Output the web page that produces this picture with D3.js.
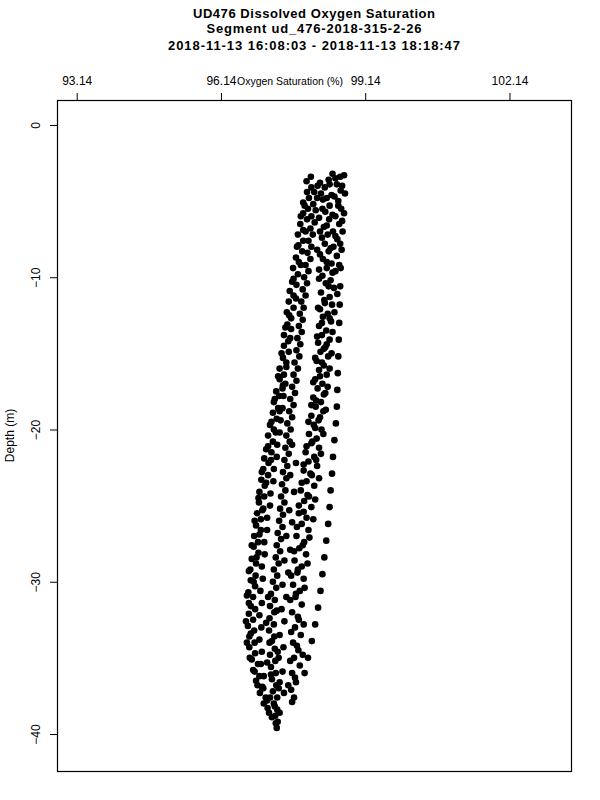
<!DOCTYPE html>
<html>
<head>
<meta charset="utf-8">
<script src="https://cdn.jsdelivr.net/npm/d3@7"></script>
<style>
  body { margin: 0; background: #fff; }
  text { font-family: "Liberation Sans", Arial, sans-serif; fill: #000; }
</style>
</head>
<body>
<svg width="600" height="800"></svg>
<script>
// Title and axis text
const titleLines = [
    "UD476 Dissolved Oxygen Saturation",
    "Segment ud_476-2018-315-2-26",
    "2018-11-13 16:08:03 - 2018-11-13 18:18:47"
];
const xLabel = "Oxygen Saturation (%)";
const yLabel = "Depth (m)";
const xTicks = [93.14, 96.14, 99.14, 102.14];
const yTicks = [0, -10, -20, -30, -40];

// Samples: [oxygen saturation %, depth m]
// left edge streak
const leftBranch = [
    [98.01,-3.4],[97.92,-3.7],[98.02,-4.1],[97.93,-4.4],[97.97,-4.8],[97.85,-5.1],[97.95,-5.5],[97.85,-5.8],
    [97.93,-6.2],[97.79,-6.5],[97.85,-6.9],[97.74,-7.2],[97.85,-7.6],[97.75,-7.9],[97.83,-8.3],[97.70,-8.7],
    [97.76,-9.0],[97.64,-9.4],[97.74,-9.8],[97.65,-10.1],[97.71,-10.5],[97.57,-10.9],[97.65,-11.2],[97.55,-11.6],
    [97.65,-12.0],[97.51,-12.3],[97.60,-12.7],[97.52,-13.1],[97.60,-13.4],[97.45,-13.8],[97.54,-14.2],[97.45,-14.5],
    [97.55,-14.9],[97.43,-15.3],[97.50,-15.6],[97.36,-16.0],[97.45,-16.4],[97.36,-16.7],[97.43,-17.1],[97.29,-17.5],
    [97.35,-17.8],[97.24,-18.2],[97.33,-18.6],[97.22,-18.9],[97.30,-19.3],[97.16,-19.7],[97.24,-20.0],[97.12,-20.4],
    [97.22,-20.8],[97.12,-21.1],[97.19,-21.5],[97.04,-21.9],[97.13,-22.2],[97.02,-22.6],[97.12,-23.0],[96.98,-23.3],
    [97.05,-23.7],[96.94,-24.1],[97.04,-24.4],[96.93,-24.8],[97.02,-25.2],[96.89,-25.5],[96.97,-25.9],[96.87,-26.3],
    [96.97,-26.6],[96.83,-27.0],[96.91,-27.4],[96.82,-27.7],[96.92,-28.1],[96.78,-28.5],[96.87,-28.8],[96.75,-29.2],
    [96.86,-29.6],[96.76,-29.9],[96.85,-30.3],[96.71,-30.7],[96.81,-31.0],[96.72,-31.4],[96.85,-31.8],[96.72,-32.1],
    [96.81,-32.5],[96.70,-32.9],[96.83,-33.2],[96.73,-33.6],[96.84,-34.0],[96.73,-34.3],[96.85,-34.7],[96.78,-35.1],
    [96.91,-35.4],[96.81,-35.8],[96.94,-36.2],[96.87,-36.5],[97.00,-36.9],[96.95,-37.3],[97.07,-37.6],[97.03,-38.0],
    [97.11,-38.3]
];
// second pass along the left edge
const leftExtra = [
    [97.88,-5.3],[97.80,-6.0],[97.90,-7.0],[97.72,-8.0],[97.80,-9.2],[97.62,-10.3],[97.70,-11.4],[97.56,-12.5],
    [97.48,-13.3],[97.58,-14.0],[97.40,-15.0],[97.50,-15.9],[97.33,-16.5],[97.42,-17.3],[97.26,-18.0],[97.36,-18.8],
    [97.19,-19.5],[97.28,-20.2],[97.08,-21.3],[97.18,-22.0],[96.99,-22.8],[97.08,-23.5],[96.92,-24.5],[97.00,-25.3],
    [96.84,-26.0],[96.94,-26.9],[96.78,-27.6],[96.88,-28.4],[96.72,-29.3],[96.82,-30.0],[96.68,-30.9],[96.76,-31.6],
    [96.66,-32.6],[96.76,-33.4],[96.68,-34.0],[96.74,-35.0],[96.84,-35.9],[96.90,-36.8],[97.00,-37.0]
];
// middle streak, ends in the deep tail
const middleBranch = [
    [98.15,-4.0],[98.08,-4.4],[98.14,-4.8],[98.06,-5.2],[98.11,-5.6],[98.02,-6.0],[98.09,-6.4],[98.00,-6.8],
    [98.05,-7.2],[97.96,-7.6],[98.02,-8.0],[97.94,-8.4],[98.00,-8.8],[97.90,-9.2],[97.96,-9.6],[97.87,-10.0],
    [97.93,-10.4],[97.84,-10.8],[97.90,-11.2],[97.81,-11.6],[97.86,-12.0],[97.78,-12.4],[97.84,-12.8],[97.76,-13.2],
    [97.82,-13.6],[97.73,-14.0],[97.79,-14.4],[97.71,-14.8],[97.77,-15.2],[97.67,-15.6],[97.74,-16.0],[97.65,-16.4],
    [97.71,-16.8],[97.62,-17.2],[97.68,-17.6],[97.58,-18.0],[97.65,-18.4],[97.56,-18.8],[97.62,-19.2],[97.52,-19.6],
    [97.59,-20.0],[97.50,-20.4],[97.57,-20.8],[97.48,-21.2],[97.55,-21.6],[97.46,-22.0],[97.52,-22.4],[97.43,-22.8],
    [97.50,-23.2],[97.41,-23.6],[97.48,-24.0],[97.39,-24.4],[97.46,-24.8],[97.37,-25.2],[97.43,-25.6],[97.35,-26.0],
    [97.42,-26.4],[97.32,-26.8],[97.39,-27.2],[97.30,-27.6],[97.37,-28.0],[97.28,-28.4],[97.34,-28.8],[97.24,-29.2],
    [97.31,-29.6],[97.22,-30.0],[97.29,-30.4],[97.18,-30.8],[97.26,-31.2],[97.16,-31.6],[97.25,-32.0],[97.15,-32.4],
    [97.24,-32.8],[97.14,-33.2],[97.25,-33.6],[97.15,-34.0],[97.26,-34.4],[97.16,-34.8],[97.27,-35.2],[97.18,-35.6],
    [97.28,-36.0],[97.20,-36.4],[97.29,-36.8],[97.22,-37.2],[97.31,-37.6],[97.24,-38.0],[97.31,-38.4],[97.27,-38.8],
    [97.32,-39.2],[97.30,-39.6]
];
// dense right streak
const rightBranch = [
    [98.46,-3.2],[98.62,-3.4],[98.38,-3.6],[98.55,-3.9],[98.30,-4.1],[98.63,-4.3],[98.44,-4.6],[98.34,-4.8],
    [98.58,-5.0],[98.40,-5.3],[98.64,-5.5],[98.31,-5.7],[98.52,-6.0],[98.39,-6.2],[98.60,-6.5],[98.28,-6.7],
    [98.47,-7.0],[98.36,-7.2],[98.56,-7.5],[98.30,-7.8],[98.48,-8.0],[98.38,-8.3],[98.55,-8.6],[98.26,-8.8],
    [98.44,-9.1],[98.34,-9.4],[98.52,-9.6],[98.25,-9.9],[98.42,-10.2],[98.32,-10.4],[98.49,-10.7],[98.22,-11.0],
    [98.40,-11.3],[98.29,-11.5],[98.45,-11.8],[98.20,-12.1],[98.36,-12.4],[98.26,-12.6],[98.43,-12.9],[98.18,-13.2],
    [98.33,-13.5],[98.24,-13.8],[98.40,-14.1],[98.16,-14.3],[98.31,-14.6],[98.21,-14.9],[98.37,-15.2],[98.13,-15.5],
    [98.28,-15.8],[98.18,-16.1],[98.34,-16.4],[98.10,-16.7],[98.25,-17.0],[98.15,-17.3],[98.31,-17.6],[98.06,-17.9],
    [98.22,-18.2],[98.11,-18.5],[98.27,-18.8],[98.02,-19.1],[98.17,-19.4],[98.07,-19.7],[98.23,-20.0],[97.97,-20.3],
    [98.13,-20.6],[98.02,-20.9],[98.18,-21.2],[97.90,-21.5],[98.08,-21.8],[97.96,-22.1],[98.14,-22.4],[97.86,-22.7],
    [98.03,-23.0],[97.92,-23.4],[98.08,-23.7],[97.80,-24.0],[97.97,-24.4],[97.87,-24.7],[98.02,-25.1],[97.76,-25.5],
    [97.92,-25.8],[97.82,-26.2],[97.96,-26.6],[97.71,-27.0],[97.87,-27.4],[97.77,-27.8],[97.91,-28.2],[97.67,-28.6],
    [97.82,-29.0],[97.73,-29.4],[97.86,-29.8],[97.64,-30.2],[97.78,-30.6],[97.69,-31.0],[97.82,-31.5],[97.62,-32.0],
    [97.76,-32.5],[97.68,-33.0],[97.80,-33.5],[97.64,-34.0],[97.75,-34.5],[97.66,-35.0],[97.78,-35.5],[97.62,-36.0],
    [97.70,-36.6],[97.60,-37.1],[97.66,-37.6]
];
// second pass through the dense right streak
const rightExtra = [
    [98.52,-3.5],[98.40,-3.9],[98.66,-4.0],[98.22,-4.5],[98.50,-4.7],[98.58,-5.3],[98.25,-5.5],[98.46,-5.9],
    [98.66,-6.3],[98.34,-6.6],[98.20,-7.0],[98.52,-7.3],[98.62,-7.8],[98.42,-8.1],[98.20,-8.5],[98.34,-9.0],
    [98.60,-9.2],[98.46,-9.7],[98.18,-10.1],[98.38,-10.6],[98.56,-11.1],[98.30,-11.7],[98.16,-12.0],[98.50,-12.3],
    [98.40,-12.7],[98.24,-13.0],[98.46,-13.6],[98.14,-13.9],[98.34,-14.4],[98.28,-14.7],[98.44,-15.0],[98.10,-15.3],
    [98.24,-15.6],[98.40,-16.0],[98.20,-16.5],[98.06,-16.9],[98.36,-17.2],[98.28,-17.7],[98.12,-18.1],[98.02,-18.4],
    [98.32,-18.7],[98.20,-19.2],[97.96,-19.5],[98.10,-19.9],[98.27,-20.3],[98.04,-20.8],[97.92,-21.1],[98.22,-21.6],
    [98.12,-22.0],[97.86,-22.3],[98.00,-22.9],[98.18,-23.2],[97.82,-23.5],[97.94,-24.3],[98.10,-24.6],[97.76,-25.0],
    [97.86,-25.4],[98.06,-25.9],[97.72,-26.4],[97.98,-27.1],[97.84,-27.6],[97.66,-28.0],[97.94,-28.8],[97.74,-29.2],
    [97.60,-29.6],[97.88,-30.4],[97.70,-30.8],[97.58,-31.2],[97.74,-32.3],[97.86,-32.8],[97.60,-33.3],[97.72,-34.2],
    [97.84,-34.8],[97.58,-35.2],[97.68,-36.3],[97.54,-36.8],[97.62,-37.9],
    [98.20,-3.8],[98.26,-4.9],[98.18,-6.1],[98.24,-7.4],[98.14,-8.2],[98.18,-9.5]
];
// sparse outer dots on the right
const outerDots = [
    [98.70,-3.3],[98.72,-4.5],[98.70,-5.8],[98.67,-7.0],[98.65,-8.2],[98.63,-9.4],[98.62,-10.6],[98.61,-11.8],
    [98.60,-13.0],[98.59,-14.1],[98.58,-15.2],[98.57,-16.3],[98.56,-17.4],[98.55,-18.5],[98.53,-19.6],[98.50,-20.7],
    [98.47,-21.8],[98.45,-22.9],[98.42,-24.0],[98.40,-25.1],[98.37,-26.2],[98.33,-27.3],[98.29,-28.4],[98.25,-29.5],
    [98.21,-30.6],[98.16,-31.7],[98.10,-32.8],[98.03,-33.9],[97.95,-35.0],[97.88,-36.0]
];
// streak between left edge and middle, lower half
const innerDots = [
    [97.48,-17.0],[97.44,-17.8],[97.42,-18.6],[97.38,-19.4],[97.36,-20.2],[97.31,-21.0],[97.30,-21.8],[97.24,-22.6],
    [97.23,-23.4],[97.17,-24.2],[97.16,-25.0],[97.10,-25.8],[97.10,-26.6],[97.04,-27.4],[97.05,-28.2],[96.99,-29.0],
    [97.01,-29.8],[96.96,-30.6],[96.99,-31.4],[96.94,-32.2],[96.98,-33.0],[96.94,-33.8],[96.99,-34.6],[96.97,-35.4],
    [97.03,-36.2],[97.02,-37.0],[97.10,-37.8],[97.14,-38.6]
];
// scattered cloud in the lower half and the deep centre column
const lowerCloud = [
    [97.62,-21.0],[97.70,-22.2],[97.58,-23.0],[97.66,-24.1],[97.56,-25.3],[97.62,-26.1],[97.50,-27.0],[97.58,-27.9],
    [97.46,-28.6],[97.54,-29.4],[97.42,-30.2],[97.50,-31.0],[97.40,-31.8],[97.46,-32.6],[97.36,-33.5],[97.44,-34.3],
    [97.34,-35.0],[97.42,-35.9],[97.36,-36.6],[97.45,-37.3],
    [97.12,-31.0],[97.30,-31.9],[97.08,-32.7],[97.20,-33.9],[97.32,-34.6],[97.10,-35.3],[97.18,-36.1],[97.34,-37.0],
    [97.16,-37.6],[97.26,-38.2],[97.20,-38.9],[97.28,-39.3],[97.36,-38.6]
];

// The svg
const svg = d3.select("svg"),
    width = +svg.attr("width"),
    height = +svg.attr("height");

svg.append("rect").attr("width", width).attr("height", height).attr("fill", "#fff");

// plot region, like R's default margins
const box = {left: 57, right: 571, top: 100, bottom: 771};

const x = d3.scaleLinear()
    .domain([92.73, 103.42])
    .range([box.left, box.right]);

const y = d3.scaleLinear()
    .domain([1.64, -42.43])
    .range([box.top, box.bottom]);

const allPoints = [].concat(leftBranch, leftExtra, middleBranch, rightBranch, rightExtra,
    outerDots, innerDots, lowerCloud);

// points
svg.append("g")
    .selectAll("circle")
    .data(allPoints)
    .join("circle")
      .attr("cx", d => x(d[0]))
      .attr("cy", d => y(d[1]))
      .attr("r", 3.3)
      .attr("fill", "#000");

// top axis
const xAxis = svg.append("g")
    .attr("transform", "translate(0," + box.top + ")")
    .call(d3.axisTop(x).tickValues(xTicks).tickSize(7).tickPadding(8).tickFormat(d3.format(".2f")));
xAxis.select(".domain").remove();
xAxis.selectAll("text").attr("font-size", 12).attr("font-family", null);
xAxis.selectAll("line").attr("stroke", "#000");

// left axis, labels turned like R's default
const yAxis = svg.append("g")
    .attr("transform", "translate(" + box.left + ",0)")
    .call(d3.axisLeft(y).tickValues(yTicks).tickSize(7));
yAxis.select(".domain").remove();
yAxis.selectAll("line").attr("stroke", "#000");
yAxis.selectAll("text")
    .attr("x", null).attr("dy", null)
    .attr("text-anchor", "middle")
    .attr("transform", "translate(-17,0) rotate(-90)")
    .attr("font-size", 12).attr("font-family", null);

// box
svg.append("rect")
    .attr("x", box.left + 0.5).attr("y", box.top + 0.5)
    .attr("width", box.right - box.left).attr("height", box.bottom - box.top)
    .attr("fill", "none").attr("stroke", "#000").attr("stroke-width", 1.2);

// title, stretched to the widths seen in the picture
const titleBase = [18.3, 33, 50];
const titleWidth = [242, 215, 292];
svg.append("g")
    .selectAll("text")
    .data(titleLines)
    .join("text")
      .attr("x", 314)
      .attr("y", (d, i) => titleBase[i])
      .attr("text-anchor", "middle")
      .attr("font-size", 13)
      .attr("font-weight", "bold")
      .attr("textLength", (d, i) => titleWidth[i])
      .attr("lengthAdjust", "spacing")
      .text(d => d);

// axis labels (squeezed between the 96.14 and 99.14 tick labels)
svg.append("text")
    .attr("x", 237).attr("y", 85)
    .attr("font-size", 11.5)
    .attr("textLength", 106)
    .attr("lengthAdjust", "spacingAndGlyphs")
    .text(xLabel);

svg.append("text")
    .attr("transform", "translate(14," + (box.top + box.bottom) / 2 + ") rotate(-90)")
    .attr("text-anchor", "middle")
    .attr("font-size", 12)
    .text(yLabel);
</script>
</body>
</html>
